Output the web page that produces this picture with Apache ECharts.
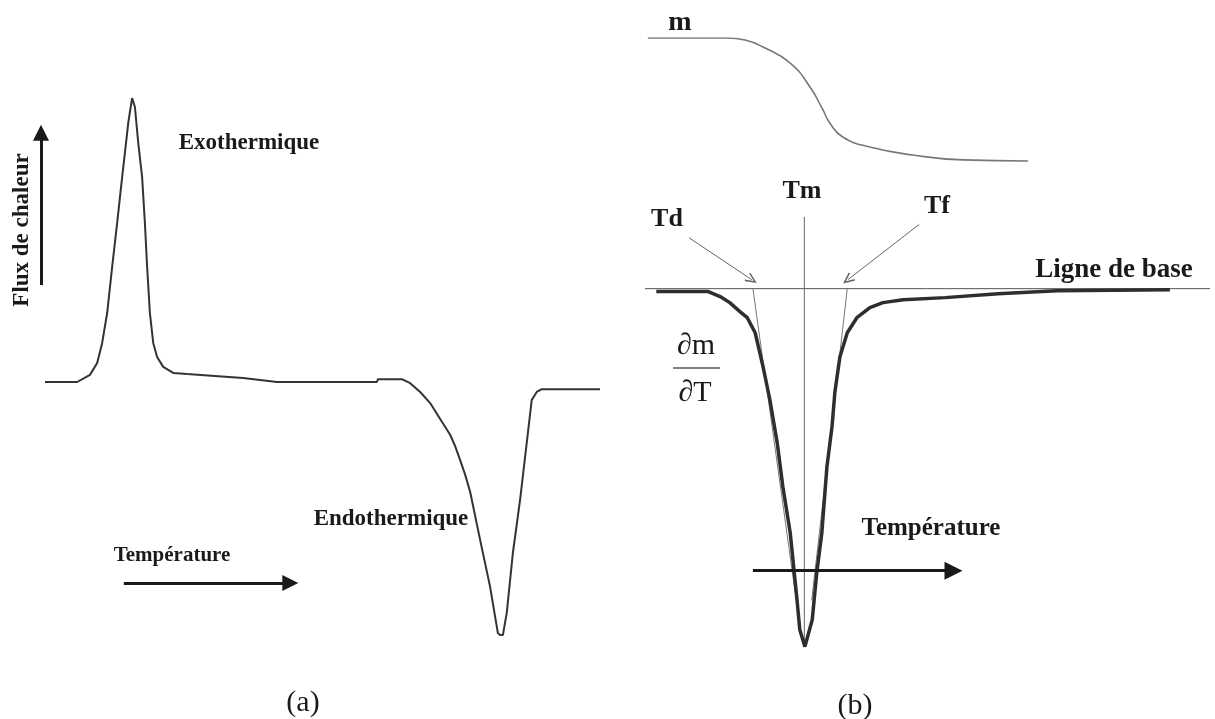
<!DOCTYPE html>
<html>
<head>
<meta charset="utf-8">
<script src="https://cdn.jsdelivr.net/npm/echarts@6/dist/echarts.min.js"></script>
<style>html,body{margin:0;background:#fff}#main{width:1215px;height:719px}</style>
</head>
<body>
<div id="main"></div>
<script>
// (a) DSC : température (u.a.) / flux de chaleur (u.a.)
var dscT = [0, 5.8, 8.1, 9.4, 10.3, 11.2, 12.1, 13.0, 13.9, 14.6, 15.0, 15.5, 15.7, 16.2, 16.8, 17.5, 18.0, 18.4, 18.9, 19.5, 20.2, 21.3, 23.1, 25.6, 30.6, 35.7, 41.8, 59.8, 60.0, 64.3, 65.8, 67.6, 69.4, 71.2, 73.0, 73.9, 74.8, 75.7, 76.6, 78.4, 80.2, 81.6, 82.0, 82.5, 83.2, 84.3, 85.6, 86.8, 87.7, 88.6, 89.5, 100];
var dscFlux = [0, 0, 0.25, 0.67, 1.37, 2.42, 4.04, 5.58, 7.19, 8.39, 9.09, 9.72, 9.96, 9.65, 8.39, 7.19, 5.58, 4.04, 2.42, 1.37, 0.88, 0.53, 0.32, 0.28, 0.21, 0.14, 0, 0, 0.1, 0.1, -0.04, -0.35, -0.74, -1.30, -1.85, -2.25, -2.74, -3.25, -3.85, -5.54, -7.19, -8.81, -8.88, -8.88, -8.1, -6.0, -4.14, -2.14, -0.63, -0.35, -0.25, -0.25];

// (b) ATG : masse (%)
var mT = [0.5, 14.5, 17.7, 20.9, 25.7, 29.2, 31.5, 32.7, 35.0, 39.8, 47.4, 56.3, 67.8];
var mMass = [100, 100, 98.7, 94.1, 83.7, 68.1, 53.2, 44.7, 35.6, 29.1, 23.9, 20.7, 20.0];

// (b) DTG : dm/dT
var dtgT = [2.0, 11.2, 11.5, 13.3, 15.0, 16.8, 18.1, 19.5, 20.9, 22.1, 23.4, 24.4, 25.7, 26.9, 27.4, 28.3, 29.6, 30.4, 31.3, 32.2, 33.1, 33.6, 34.5, 35.8, 37.5, 39.8, 42.1, 45.7, 53.1, 62.5, 72.9, 92.9];
var dtgVal = [-0.08, -0.08, -0.11, -0.22, -0.39, -0.64, -0.81, -1.23, -2.18, -3.10, -4.30, -5.53, -6.81, -8.68, -9.52, -9.99, -9.24, -7.93, -6.81, -4.97, -3.85, -2.90, -1.90, -1.23, -0.81, -0.53, -0.39, -0.31, -0.25, -0.14, -0.06, -0.03];

// constructions : ligne de base, Tm, tangentes
var baseT = [0, 100], baseVal = [0, 0];
var tmT = [28.2, 28.2], tmVal = [2, -10];
var tanLeftT = [19.1, 26.6], tanLeftVal = [0, -8.5];
var tanRightT = [35.8, 29.5], tanRightVal = [0, -8.7];

function zip(a, b) {
  return a.map(function(v, i) { return [v, b[i]]; });
}

var serif = "'Liberation Serif', 'DejaVu Serif', serif";
var chevron = 'path://M5,0 L10,9 L8.9,10 L5,3 L1.1,10 L0,9 Z';

function hiddenAxis(extra) {
  var ax = { type: 'value', show: false, splitLine: { show: false } };
  for (var k in extra) ax[k] = extra[k];
  return ax;
}

function arrow(from, to, size, width, color, sym) {
  return [
    { coord: from, symbol: 'none', lineStyle: { width: width, color: color, type: 'solid' } },
    { coord: to, symbol: sym || 'triangle', symbolSize: size }
  ];
}

function txt(x, y, s, size, weight, extra) {
  var g = {
    type: 'text', x: x, y: y, silent: true,
    style: { text: s, fontFamily: serif, fontSize: size, fontWeight: weight || 'normal',
      fill: '#1a1a1a', align: 'center', verticalAlign: 'middle' }
  };
  for (var k in extra) g[k] = extra[k];
  return g;
}

var myChart = echarts.init(document.getElementById('main'));
var option = {
  animation: false,
  backgroundColor: '#fff',
  grid: [
    { left: 33.9, top: 97, width: 566.1, height: 570 },
    { left: 645, top: 38, width: 565, height: 153.75 },
    { left: 645, top: 217, width: 565, height: 430 }
  ],
  xAxis: [
    hiddenAxis({ gridIndex: 0, min: -2, max: 100 }),
    hiddenAxis({ gridIndex: 1, min: 0, max: 100 }),
    hiddenAxis({ gridIndex: 2, min: 0, max: 100 })
  ],
  yAxis: [
    hiddenAxis({ gridIndex: 0, min: -10, max: 10 }),
    hiddenAxis({ gridIndex: 1, min: 0, max: 100 }),
    hiddenAxis({ gridIndex: 2, min: -10, max: 2 })
  ],
  series: [
    {
      name: 'DSC', type: 'line', xAxisIndex: 0, yAxisIndex: 0,
      data: zip(dscT, dscFlux), showSymbol: false, silent: true,
      lineStyle: { color: '#333', width: 2 },
      markLine: {
        silent: true, label: { show: false },
        data: [
          arrow([-0.72, 3.4], [-0.72, 8.75], [16, 16], 3, '#1a1a1a'),
          arrow([14.2, -7.05], [44.2, -7.05], [16, 16], 3, '#1a1a1a')
        ]
      }
    },
    {
      name: 'm', type: 'line', xAxisIndex: 1, yAxisIndex: 1,
      data: zip(mT, mMass), showSymbol: false, smooth: true, silent: true,
      lineStyle: { color: '#777', width: 1.6 }
    },
    {
      name: 'base', type: 'line', xAxisIndex: 2, yAxisIndex: 2,
      data: zip(baseT, baseVal), showSymbol: false, silent: true,
      lineStyle: { color: '#555', width: 1 }
    },
    {
      name: 'Tm', type: 'line', xAxisIndex: 2, yAxisIndex: 2,
      data: zip(tmT, tmVal), showSymbol: false, silent: true,
      lineStyle: { color: '#666', width: 1 }
    },
    {
      name: 'tanL', type: 'line', xAxisIndex: 2, yAxisIndex: 2,
      data: zip(tanLeftT, tanLeftVal), showSymbol: false, silent: true,
      lineStyle: { color: '#777', width: 1 }
    },
    {
      name: 'tanR', type: 'line', xAxisIndex: 2, yAxisIndex: 2,
      data: zip(tanRightT, tanRightVal), showSymbol: false, silent: true,
      lineStyle: { color: '#777', width: 1 }
    },
    {
      name: 'DTG', type: 'line', xAxisIndex: 2, yAxisIndex: 2,
      data: zip(dtgT, dtgVal), showSymbol: false, silent: true,
      lineStyle: { color: '#2e2e2e', width: 3.5 },
      markLine: {
        silent: true, label: { show: false },
        data: [
          arrow([7.8, 1.42], [18.9, 0.25], [10, 12], 1, '#666', chevron),
          arrow([48.5, 1.79], [35.9, 0.25], [10, 12], 1, '#666', chevron),
          arrow([19.1, -7.87], [54.6, -7.87], [18, 18], 3, '#1a1a1a')
        ]
      }
    }
  ],
  graphic: [
    txt(249, 143, 'Exothermique', 23, 'bold'),
    txt(391, 519, 'Endothermique', 23, 'bold'),
    txt(172, 556, 'Température', 21, 'bold'),
    txt(22, 230, 'Flux de chaleur', 23, 'bold', { rotation: Math.PI / 2 }),
    txt(680, 23, 'm', 28, 'bold'),
    txt(667, 219, 'Td', 26, 'bold'),
    txt(802, 191, 'Tm', 26, 'bold'),
    txt(937, 206, 'Tf', 26, 'bold'),
    txt(1114, 270, 'Ligne de base', 27, 'bold'),
    txt(931, 529, 'Température', 25, 'bold'),
    txt(696, 346, '∂m', 30),
    { type: 'line', silent: true, shape: { x1: 673, y1: 368, x2: 720, y2: 368 }, style: { stroke: '#555', lineWidth: 1.5 } },
    txt(695, 393, '∂T', 30),
    txt(303, 703, '(a)', 30),
    txt(855, 706, '(b)', 30)
  ]
};
myChart.setOption(option);
</script>
</body>
</html>
